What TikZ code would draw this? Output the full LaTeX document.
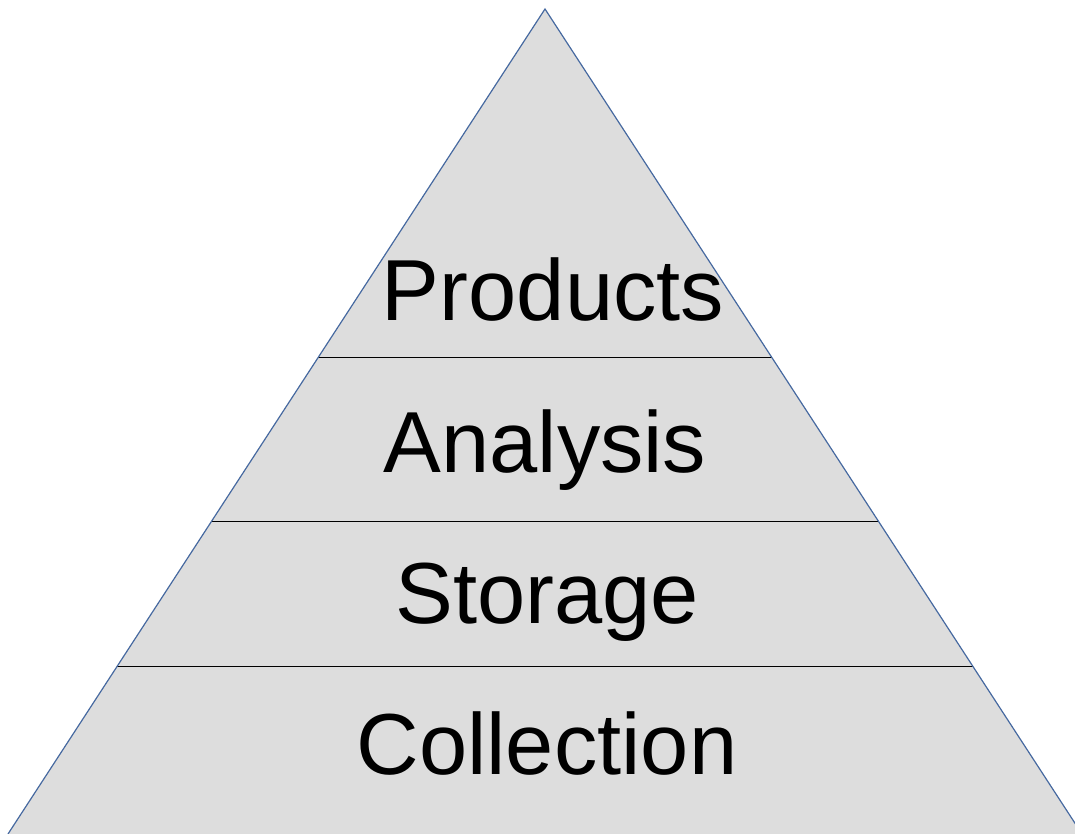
\documentclass[tikz,border=0pt]{standalone}
\usepackage{fontspec}
\setmainfont{Liberation Sans}
\usetikzlibrary{calc}

\definecolor{layerfill}{RGB}{221,221,221}
\definecolor{edgeblue}{RGB}{70,105,160}

\begin{document}
\begin{tikzpicture}[x=0.75pt, y=-0.75pt,
	layer/.style={font=\fontsize{65}{78}\selectfont, inner sep=0pt}]
	\def \apexx {545}
	\def \apexy {9}
	\def \basey {834}
	\def \halfbase {537}

	\useasboundingbox (0,0) rectangle (1075,834);
	\clip (0,0) rectangle (1075,834);

	\coordinate (apex)  at (\apexx,\apexy);
	\coordinate (left)  at ({\apexx-\halfbase},\basey);
	\coordinate (right) at ({\apexx+\halfbase},\basey);

	\fill[layerfill] (apex) -- (left) -- (right) -- cycle;

	% separating lines, ends found on the sides
	\foreach \name/\y in {top/358, mid/521, low/667} {
		\coordinate (\name l) at ($(apex)!{(\y-\apexy)/(\basey-\apexy)}!(left)$);
		\coordinate (\name r) at ($(apex)!{(\y-\apexy)/(\basey-\apexy)}!(right)$);
		\draw[black, line width=0.75pt] (\name l) -- (\name r);
	}

	\draw[edgeblue, line width=0.9pt] (left) -- (apex) -- (right);

	\node[layer] (products)   at (553,290) {Products};
	\node[layer] (analysis)   at (545,450) {Analysis};
	\node[layer] (storage)    at (547,602) {Storage};
	\node[layer] (collection) at (547,744) {Collection};
\end{tikzpicture}
\end{document}
